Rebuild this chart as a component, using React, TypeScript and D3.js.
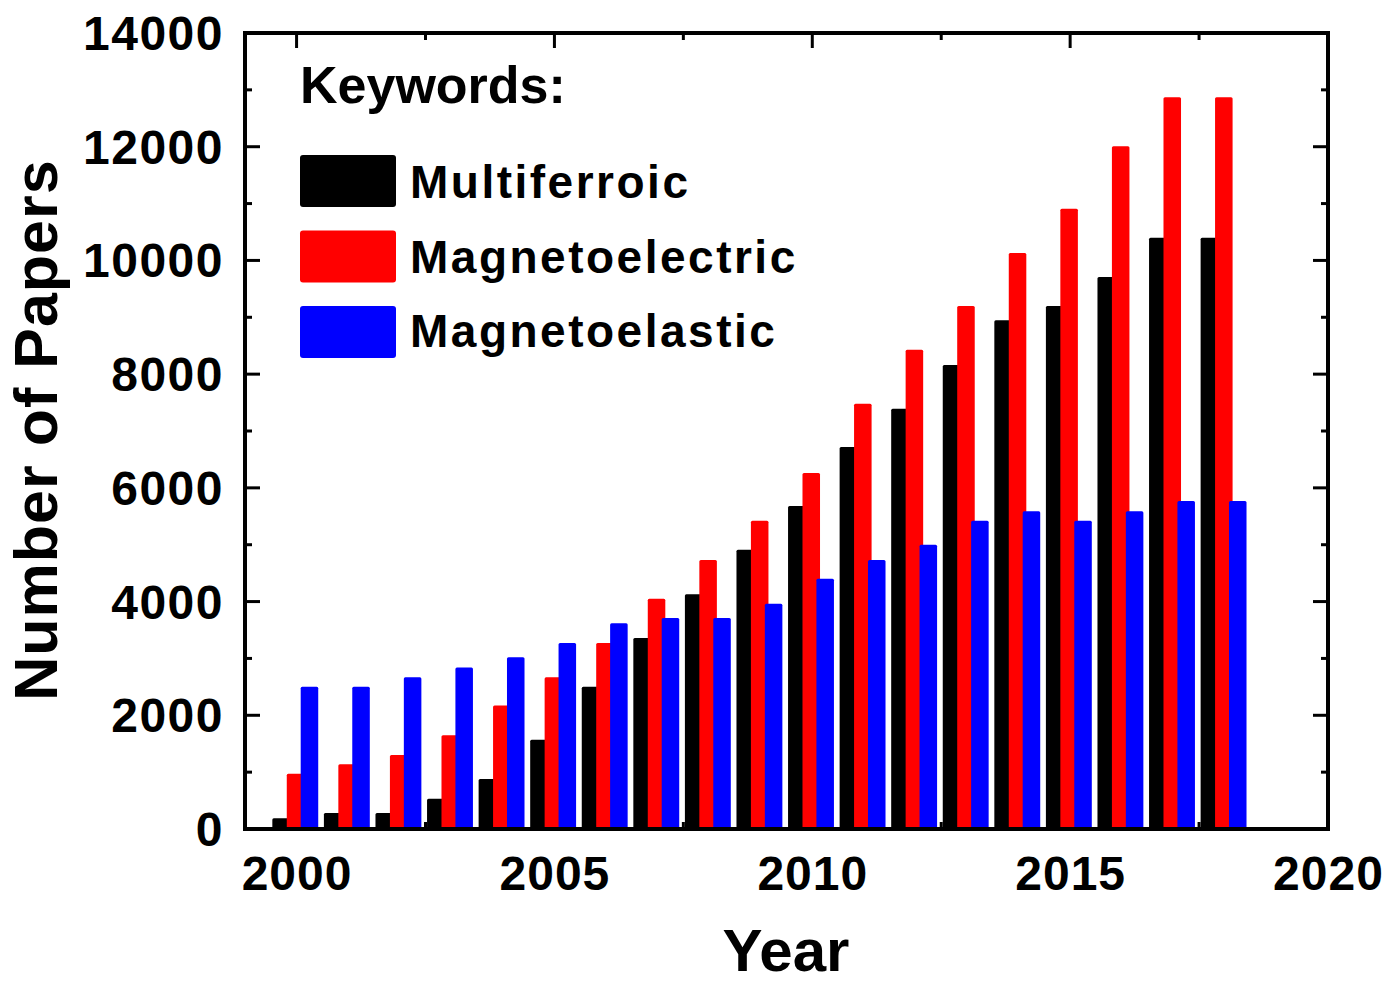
import React from "react";
import * as d3 from "d3";

const years = [2000, 2001, 2002, 2003, 2004, 2005, 2006, 2007, 2008, 2009, 2010, 2011, 2012, 2013, 2014, 2015, 2016, 2017, 2018];
const multiferroic = [190, 280, 280, 530, 880, 1570, 2500, 3360, 4130, 4910, 5680, 6720, 7390, 8160, 8950, 9200, 9710, 10400, 10400];
const magnetoelectric = [970, 1140, 1300, 1650, 2170, 2670, 3270, 4050, 4730, 5420, 6260, 7480, 8430, 9200, 10130, 10910, 12010, 12870, 12870];
const magnetoelastic = [2500, 2500, 2670, 2840, 3020, 3270, 3620, 3710, 3710, 3960, 4400, 4730, 5000, 5420, 5590, 5420, 5590, 5770, 5770];

const seriesNames = ["Multiferroic", "Magnetoelectric", "Magnetoelastic"];
const seriesColors = ["#000000", "#ff0000", "#0000ff"];
const seriesOffsets = [-0.47, -0.19, 0.08];
const barWidthYears = 0.34;

const xTickLabels = [2000, 2005, 2010, 2015, 2020];
const yTickLabels = [0, 2000, 4000, 6000, 8000, 10000, 12000, 14000];

const W = 1400;
const H = 985;
const left = 245, right = 1328, top = 33, bottom = 829;
const FONT = "'Liberation Sans', Arial, Helvetica, sans-serif";

export default function App() {
  const x = d3.scaleLinear().domain([1999, 2020]).range([left, right]);
  const y = d3.scaleLinear().domain([0, 14000]).range([bottom, top]);
  const series = [multiferroic, magnetoelectric, magnetoelastic];

  const xMinor = d3.range(2000, 2020.01, 2.5);
  const yMinor = d3.range(0, 14001, 1000);

  return (
    <svg width={W} height={H} style={{ position: "absolute", left: 0, top: 0, background: "#fff" }}>
      <rect x={0} y={0} width={W} height={H} fill="#fff" />
      {/* ticks */}
      <g stroke="#000" strokeWidth={3}>
        {xMinor.map((t) => {
          const len = t % 5 === 0 ? 15 : 7;
          return (
            <g key={"xt" + t}>
              <line x1={x(t)} x2={x(t)} y1={bottom} y2={bottom - len} />
              <line x1={x(t)} x2={x(t)} y1={top} y2={top + len} />
            </g>
          );
        })}
        {yMinor.map((t) => {
          const len = t % 2000 === 0 ? 15 : 7;
          return (
            <g key={"yt" + t}>
              <line x1={left} x2={left + len} y1={y(t)} y2={y(t)} />
              <line x1={right} x2={right - len} y1={y(t)} y2={y(t)} />
            </g>
          );
        })}
      </g>
      {/* bars */}
      {series.map((vals, si) => (
        <g key={"s" + si} fill={seriesColors[si]}>
          {vals.map((v, i) => {
            const x0 = x(years[i] + seriesOffsets[si]);
            const x1 = x(years[i] + seriesOffsets[si] + barWidthYears);
            return <rect key={i} x={x0} y={y(v)} width={x1 - x0} height={y(0) - y(v)} rx={1.5} />;
          })}
        </g>
      ))}
      {/* frame */}
      <rect x={left} y={top} width={right - left} height={bottom - top} fill="none" stroke="#000" strokeWidth={4} />
      {/* tick labels */}
      <g fontFamily={FONT} fontWeight="bold" fontSize={48} fill="#000">
        {yTickLabels.map((t) => (
          <text key={"yl" + t} x={224} y={y(t) + 17} textAnchor="end" letterSpacing={1.5}>{t}</text>
        ))}
        {xTickLabels.map((t) => (
          <text key={"xl" + t} x={x(t) + 0.5} y={890} textAnchor="middle" letterSpacing={1}>{t}</text>
        ))}
      </g>
      {/* axis titles */}
      <text x={786} y={971} textAnchor="middle" fontFamily={FONT} fontWeight="bold" fontSize={60}>Year</text>
      <text transform="translate(57,430) rotate(-90)" textAnchor="middle" fontFamily={FONT} fontWeight="bold" fontSize={61} letterSpacing={1}>Number of Papers</text>
      {/* legend */}
      <text x={300} y={103} fontFamily={FONT} fontWeight="bold" fontSize={52}>Keywords:</text>
      {seriesNames.map((name, i) => (
        <g key={"lg" + i}>
          <rect x={300} y={155 + i * 75.5} width={96} height={52} rx={3} fill={seriesColors[i]} />
          <text x={410} y={198 + i * 74.5} fontFamily={FONT} fontWeight="bold" fontSize={46} letterSpacing={2.5}>{name}</text>
        </g>
      ))}
    </svg>
  );
}
